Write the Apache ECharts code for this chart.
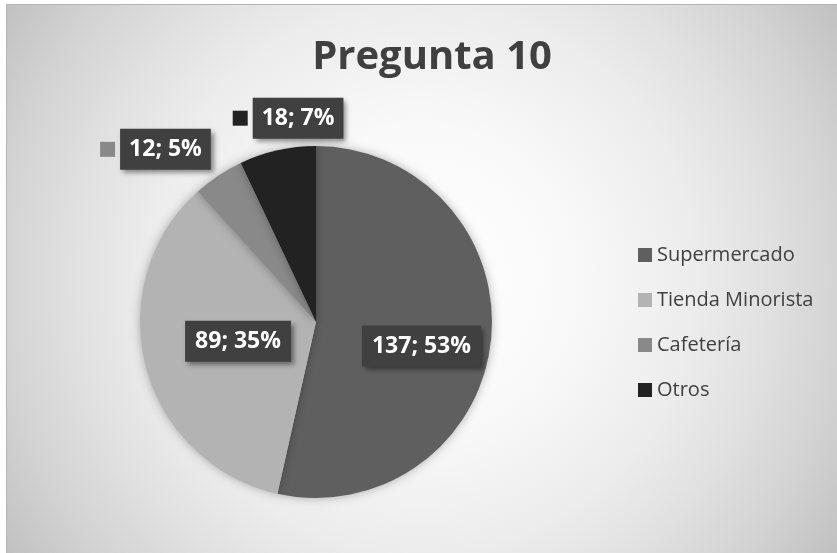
<!DOCTYPE html>
<html>
<head>
<meta charset="utf-8">
<script src="https://cdn.jsdelivr.net/npm/echarts@6/dist/echarts.min.js"></script>
<style>
  html, body { margin: 0; padding: 0; background: #fff; }
  #chart { width: 837px; height: 553px; }
</style>
</head>
<body>
<div id="chart"></div>
<script>
const categories = ['Supermercado', 'Tienda Minorista', 'Cafetería', 'Otros']
const values = [137, 89, 12, 18]
const colors = ['#5f5f5f', '#b3b3b3', '#898989', '#222222']

// label nudges (Excel puts its labels a bit off the ECharts default spot)
const labelShift = [[15, 14], [10, -4], [-110, -97], [-8, -115]]

const boxStyle = {
  backgroundColor: '#404040',
  color: '#fff',
  fontFamily: 'Open Sans',
  fontWeight: 'bold',
  fontSize: 23,
  padding: [9, 10],
  shadowColor: 'rgba(0,0,0,0.45)',
  shadowBlur: 5,
  shadowOffsetX: 3,
  shadowOffsetY: 3
}

const total = values.reduce((a, b) => a + b, 0)
const pieData = values.map((v, i) => {
  const item = { value: v, name: categories[i], itemStyle: { color: colors[i] } }
  if (v / total < 0.1) {
    // small slices: legend key + dark box, like Excel callouts
    item.label = {
      backgroundColor: 'transparent',
      padding: 0,
      shadowBlur: 0,
      shadowOffsetX: 0,
      shadowOffsetY: 0,
      formatter: p => '{k|}{g|}{v|' + p.value + '; ' + p.percent + '%}',
      rich: {
        k: { width: 15, height: 15, backgroundColor: colors[i] },
        g: { width: 5 },
        v: Object.assign({}, boxStyle, { padding: [9, 9] })
      }
    }
  }
  return item
})

const chart = echarts.init(document.getElementById('chart'))
chart.setOption({
  backgroundColor: '#fff',
  graphic: [{
    type: 'rect',
    z: 0,
    silent: true,
    shape: { x: 6.5, y: 4.5, width: 840, height: 560 },
    style: {
      fill: {
        type: 'radial', global: true, x: 421, y: 278, r: 500,
        colorStops: [
          { offset: 0, color: '#ffffff' },
          { offset: 0.3, color: '#f9f9f9' },
          { offset: 0.55, color: '#ececec' },
          { offset: 0.7, color: '#e0e0e0' },
          { offset: 0.85, color: '#d2d2d2' },
          { offset: 1, color: '#c0c0c0' }
        ]
      },
      stroke: '#b4b4b4',
      lineWidth: 1
    }
  }],
  title: {
    text: 'Pregunta 10',
    left: 427,
    textAlign: 'center',
    top: 33,
    textStyle: {
      fontFamily: 'Open Sans',
      fontWeight: 'bold',
      fontSize: 40,
      color: '#404040'
    }
  },
  legend: {
    orient: 'vertical',
    left: 638,
    top: 245,
    padding: 0,
    icon: 'rect',
    itemWidth: 14,
    itemHeight: 14,
    itemGap: 25,
    data: categories,
    textStyle: {
      fontFamily: 'Open Sans',
      fontSize: 20,
      color: '#404040'
    }
  },
  series: [{
    type: 'pie',
    center: [316, 322],
    radius: 176,
    startAngle: 90,
    clockwise: true,
    percentPrecision: 0,
    avoidLabelOverlap: false,
    itemStyle: {
      borderWidth: 0,
      shadowColor: 'rgba(0,0,0,0.3)',
      shadowBlur: 10
    },
    label: Object.assign({
      position: 'inside',
      formatter: p => p.value + '; ' + p.percent + '%'
    }, boxStyle),
    labelLine: { show: false },
    labelLayout: p => ({ dx: labelShift[p.dataIndex][0], dy: labelShift[p.dataIndex][1] }),
    emphasis: { disabled: true },
    data: pieData
  }]
})
</script>
</body>
</html>
